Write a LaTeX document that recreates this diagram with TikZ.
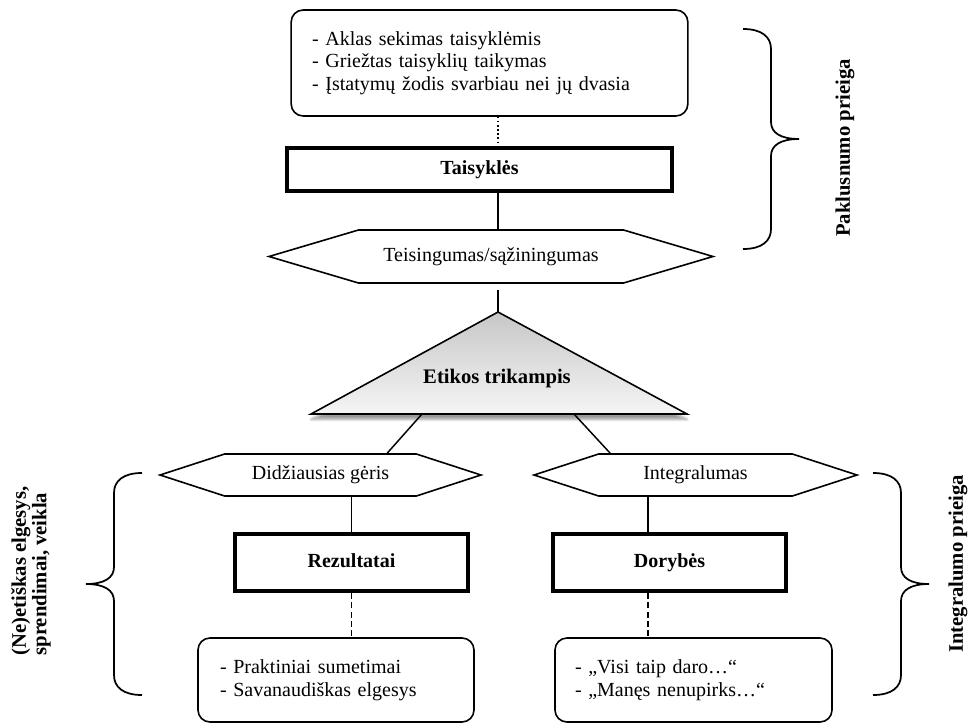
\documentclass[tikz,border=0pt]{standalone}
\usepackage{fontspec}
\setmainfont{Liberation Serif}
\usetikzlibrary{positioning,shapes.symbols,shadows.blur}

\begin{document}
\begin{tikzpicture}[x=0.75pt, y=-0.75pt,
    every node/.style={font=\fontsize{15}{17}\selectfont},
    listbox/.style={draw, line width=1.2pt, rounded corners=9pt, align=left},
    mainbox/.style={draw, line width=3pt, font=\fontsize{15}{17}\selectfont\bfseries,
        text height=1.9ex, text depth=0.2ex},
    hexa/.style={draw, line width=1.2pt, shape=signal, signal to=east and west, inner sep=0pt},
    link/.style={line width=1.1pt},
    side/.style={rotate=90, font=\fontsize{15.5}{15.5}\selectfont\bfseries, align=left},
    pics/curly/.style={code={
        \draw[line width=1.3pt] (0,-#1) .. controls (19,-#1) and (28,-#1+8) .. (28,-#1+20)
            -- (28,-17) .. controls (28,-6) and (38,0) .. (56,0)
            .. controls (38,0) and (28,6) .. (28,17)
            -- (28,#1-20) .. controls (28,#1-8) and (19,#1) .. (0,#1);
    }}
]
\useasboundingbox (0,0) rectangle (970,725);

\coordinate (axis) at (498,0);
\coordinate (raxis) at (648,0);

% top part
\node[listbox, text width=266pt, inner xsep=15.75pt, minimum height=79.5pt] (rules) at (489.5,63)
    {- Aklas sekimas taisyklėmis\\- Griežtas taisyklių taikymas\\- Įstatymų žodis svarbiau nei jų dvasia};
\node[mainbox, minimum width=288.75pt, minimum height=32.25pt] (taisykles) at (479.5,169.5) {Taisyklės};
\node[hexa, minimum width=333pt, minimum height=39.75pt, signal pointer angle=33] (teis) at (491,256.5)
    {Teisingumas/sąžiningumas};

\draw[link, dotted] (rules.south -| axis) -- (taisykles.north -| axis);
\draw[link] (taisykles.south -| axis) -- (teis.north -| axis);

% triangle
\coordinate (apex) at (498,312);
\coordinate (bl) at (311,414);
\coordinate (br) at (687,414);
\draw[line width=1.2pt, top color=black!22, bottom color=black!4,
    blur shadow={shadow xshift=0pt, shadow yshift=-4pt, shadow blur steps=6}]
    (apex) -- (br) -- (bl) -- cycle;
\node[font=\fontsize{15.5}{17}\selectfont\bfseries] (etikos) at (497,379) {Etikos trikampis};
\draw[link, shorten <=5pt] (teis.south -| axis) -- (apex);

% lower part
\node[hexa, minimum width=240.75pt, minimum height=31.5pt, signal pointer angle=36] (geris) at (320.5,475)
    {Didžiausias gėris};
\node[hexa, minimum width=242.25pt, minimum height=31.5pt, signal pointer angle=36] (integral) at (695.5,475)
    {Integralumas};
\coordinate (tl) at (422,414);
\coordinate (tr) at (574,414);
\draw[link] (tl) -- ([xshift=50pt]geris.north);
\draw[link] (tr) -- ([xshift=-64pt]integral.north);

\node[mainbox, minimum width=174.75pt, minimum height=42.75pt] (rezultatai) at (351.5,562.5) {Rezultatai};
\node[mainbox, minimum width=174.75pt, minimum height=42.75pt] (dorybes) at (669.5,562.5) {Dorybės};
\draw[link] (rezultatai.north) -- (rezultatai.north |- geris.south);
\draw[link] (dorybes.north -| raxis) -- (integral.south -| raxis);

\node[listbox, text width=174pt, inner xsep=16.5pt, minimum height=63pt] (praktika) at (336,680)
    {- Praktiniai sumetimai\\- Savanaudiškas elgesys};
\node[listbox, text width=177.75pt, inner xsep=15pt, minimum height=63pt] (posakiai) at (693.5,680)
    {- „Visi taip daro…“\\- „Manęs nenupirks…“};
\draw[link, dash pattern=on 4.5pt off 2.5pt] (rezultatai.south) -- (rezultatai.south |- praktika.north);
\draw[link, dash pattern=on 4.5pt off 2.5pt] (dorybes.south -| raxis) -- (posakiai.north -| raxis);

% braces and side labels
\pic at (743,139) {curly=110};
\pic[rotate=180] at (142,584) {curly=111};
\pic at (873,584) {curly=111};
\node[side] (paklus) at (845,148) {Paklusnumo prieiga};
\node[side] (integrpr) at (958,564) {Integralumo prieiga};
\node[side] (neet) at (31,571) {(Ne)etiškas elgesys,\\sprendimai, veikla};

\end{tikzpicture}
\end{document}
